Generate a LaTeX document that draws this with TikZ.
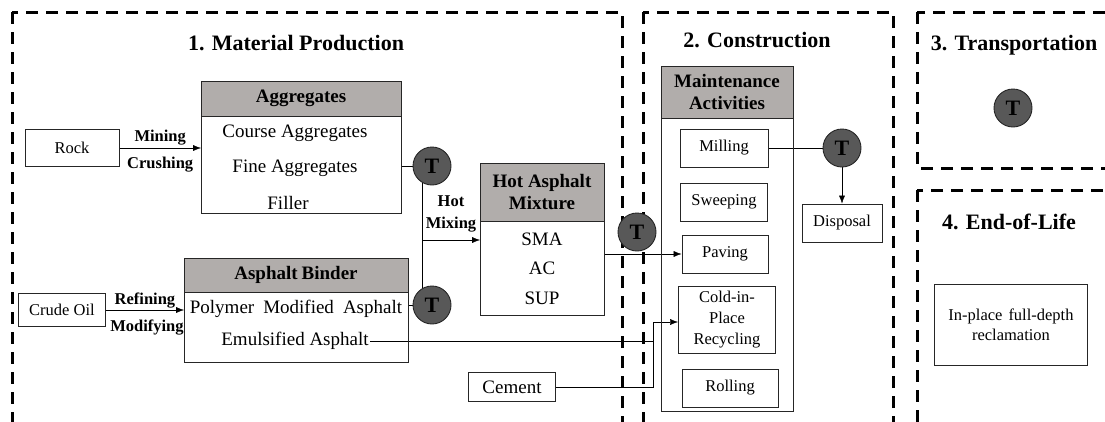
\documentclass[tikz,border=0pt]{standalone}
\usepackage{fontspec}
\setmainfont{Liberation Serif}
\usepackage{xcolor}
\usepackage{tikz}
\usetikzlibrary{arrows,arrows.meta,backgrounds,positioning}
\definecolor{hdrgray}{RGB}{177,173,171}
\definecolor{tgray}{RGB}{88,88,88}

\begin{document}
\begin{tikzpicture}
		[x=1pt,y=-1pt,>={Latex[length=8pt,width=6pt]},line width=0.9pt,
		sect/.style={line width=3pt,dash pattern=on 12pt off 8pt},
		ttl/.style={font=\fontsize{22}{26}\selectfont\bfseries},
		hdr/.style={draw=black!85,fill=hdrgray,align=center,inner sep=0pt,outer sep=0pt,font=\fontsize{19}{22.5}\selectfont\bfseries},
		bodybox/.style={draw=black!85,inner sep=0pt,outer sep=0pt},
		entry/.style={inner sep=1pt,font=\fontsize{19}{22}\selectfont},
		proc/.style={draw=black!85,align=center,inner sep=0pt,font=\fontsize{16.5}{21}\selectfont},
		lbl/.style={inner sep=1pt,font=\fontsize{16.5}{22}\selectfont\bfseries},
		tnode/.style={circle,draw=black!85,fill=tgray,minimum size=38pt,inner sep=0pt,font=\fontsize{22}{24}\selectfont\bfseries}]
		\useasboundingbox (0,0) rectangle (1105,421);
		\node[ttl] (ttlMat) at (296,43) {1. Material Production};
		\node[ttl] (ttlCon) at (757,40) {2. Construction};
		\node[ttl] (ttlTra) at (1014,45) {3. Transportation};
		\node[ttl] (ttlEnd) at (1009,222) {4. End-of-Life};
		\node[proc,minimum width=94pt,minimum height=37pt] (rock) at (72,148) {Rock};
		\node[hdr,minimum width=200pt,minimum height=35pt,anchor=north west] (aggH) at (201,81) {Aggregates};
		\node[bodybox,minimum width=200pt,minimum height=97pt,below=0pt of aggH] (aggB) {};
		\node[entry] (course) at (295,133) {Course Aggregates};
		\node[entry] (fine) at (295,168) {Fine Aggregates};
		\node[entry] (filler) at (288,203) {Filler};
		\node[proc,minimum width=87pt,minimum height=33pt] (crude) at (62,310) {Crude Oil};
		\node[hdr,minimum width=224pt,minimum height=34pt,anchor=north west] (bindH) at (184,258) {Asphalt\hspace{4pt}Binder};
		\node[bodybox,minimum width=224pt,minimum height=70pt,below=0pt of bindH] (bindB) {};
		\node[entry] (polymer) at (296,309) {Polymer\hspace{9pt}Modified\hspace{9pt}Asphalt};
		\node[entry] (emul) at (295,341) {Emulsified Asphalt};
		\node[hdr,minimum width=124pt,minimum height=58pt,anchor=north west] (mixH) at (480,163) {Hot Asphalt\\Mixture};
		\node[bodybox,minimum width=124pt,minimum height=94pt,below=0pt of mixH] (mixB) {};
		\node[entry] (sma) at (542,239) {SMA};
		\node[entry] (ac) at (542,268) {AC};
		\node[entry] (sup) at (542,298) {SUP};
		\node[proc,minimum width=87pt,minimum height=29pt,font=\fontsize{19}{22}\selectfont] (cement) at (512,387) {Cement};
		\node[hdr,minimum width=132pt,minimum height=52pt,anchor=north west] (mntH) at (661,66) {Maintenance\\Activities};
		\node[bodybox,minimum width=132pt,minimum height=293pt,below=0pt of mntH] (mntB) {};
		\node[proc,minimum width=88pt,minimum height=38pt] (milling) at (724,148) {Milling};
		\node[proc,minimum width=87pt,minimum height=38pt] (sweeping) at (724,202) {Sweeping};
		\node[proc,minimum width=86pt,minimum height=38pt] (paving) at (725,254) {Paving};
		\node[proc,minimum width=97pt,minimum height=67pt] (cold) at (727,320) {Cold-in-\\Place\\Recycling};
		\node[proc,minimum width=96pt,minimum height=38pt] (rolling) at (730,388) {Rolling};
		\node[proc,minimum width=80pt,minimum height=38pt] (disposal) at (842,223) {Disposal};
		\node[proc,minimum width=153pt,minimum height=81pt,font=\fontsize{16.5}{20}\selectfont] (reclaim) at (1011,325) {In-place\hspace{6pt}full-depth\\reclamation};
		\node[tnode] (tAgg) at (432,166) {T};
		\node[tnode] (tBind) at (432,305) {T};
		\node[tnode] (tMix) at (637,232) {T};
		\node[tnode] (tMill) at (842,148) {T};
		\node[tnode] (tTrans) at (1013,108) {T};
		\node[lbl,align=center] (hotmix) at (451,214) {Hot\\Mixing};
		\coordinate (hm) at (422,240);
		\coordinate (jn) at (653,322);
		\begin{pgfonlayer}{background}
			\draw[sect] (12,12) rectangle (622,425);
			\draw[sect] (643,12) rectangle (893,425);
			\draw[sect] (917,12) rectangle (1125,168);
			\draw[sect] (917,190) rectangle (1125,425);
			\draw[->] (rock) -- (rock -| aggB.west)
				node[lbl,midway,above=2pt] {Mining}
				node[lbl,midway,below=8pt] {Crushing};
			\draw (tAgg -| aggB.east) -- (tAgg);
			\draw ([xshift=-10pt]tAgg.center) -- ([xshift=-10pt]tBind.center);
			\draw[->] (hm) -- (hm -| mixB.west);
			\draw (tBind -| bindB.east) -- (tBind);
			\draw[->] (crude) -- (crude -| bindB.west)
				node[lbl,midway,above=1pt] {Refining}
				node[lbl,midway,below=9pt,xshift=2pt] {Modifying};
			\draw (emul.east) -| (jn);
			\draw (cement.east) -| (jn);
			\draw[->] (jn) -- (jn -| cold.west);
			\draw[->] (mixB.east |- paving) -- (paving.west);
			\draw (milling) -- (tMill);
			\draw[->] (tMill) -- (disposal);
		\end{pgfonlayer}
\end{tikzpicture}
\end{document}
